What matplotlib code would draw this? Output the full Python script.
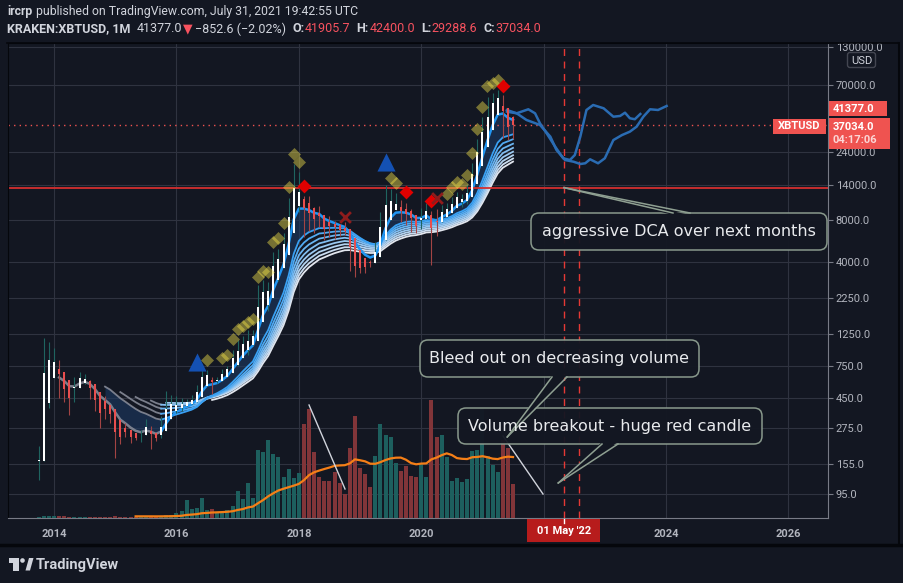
import matplotlib
matplotlib.use('Agg')
import matplotlib.pyplot as plt
import numpy as np
from matplotlib.patches import FancyBboxPatch, Polygon, Rectangle, Circle
from matplotlib.ticker import NullLocator

W, H = 904, 583
BG = '#131722'
FG = '#d1d4dc'
AXTXT = '#b2b5be'
GRID = '#2f3340'
RED = '#f7525f'
FONT = ['Roboto', 'DejaVu Sans']
plt.rcParams['font.family'] = FONT

# ---- monthly bars KRAKEN:XBTUSD, first bar = Oct 2013 ----
first_year, first_month = 2013, 10
opens = [125, 200, 1110,
         700, 815, 545, 460, 448, 628, 640, 586, 478, 387, 338, 378,
         318, 218, 254, 244, 236, 230, 263, 284, 230, 236, 314, 377,
         430, 369, 437, 416, 448, 531, 674, 624, 575, 609, 700, 745,
         964, 965, 1190, 1080, 1350, 2300, 2480, 2870, 4740, 4340, 6450, 10000,
         13880, 10200, 10300, 6930, 9240, 7490, 6390, 7730, 7010, 6620, 6300, 4020,
         3740, 3460, 3820, 4100, 5330, 8570, 10800, 10100, 9600, 8300, 9150, 7570,
         7200, 9350, 8540, 6420, 8630, 9450, 9140, 11350, 11650, 10780, 13800, 19700,
         28990, 33100, 45200, 58800, 57700, 37300, 35000]
highs = [206, 1180, 1110,
         1005, 828, 660, 545, 633, 680, 660, 600, 490, 415, 460, 382,
         320, 266, 300, 262, 248, 268, 318, 286, 245, 335, 500, 470,
         462, 448, 439, 470, 550, 780, 703, 628, 629, 720, 756, 980,
         1150, 1210, 1350, 1350, 2760, 3000, 2920, 4750, 4980, 6480, 11400, 19700,
         17200, 11800, 11700, 9750, 9990, 7760, 8500, 7760, 7400, 7680, 6600, 4300,
         4100, 4200, 4130, 5600, 9100, 13900, 13200, 12300, 10900, 10500, 9500, 7750,
         9580, 10500, 9200, 9460, 10070, 10400, 11450, 12480, 12070, 14100, 19900, 29300,
         41900, 58400, 61800, 65000, 59600, 41300, 42400]
lows = [119, 190, 380,
        680, 448, 420, 340, 420, 525, 565, 440, 365, 275, 320, 300,
        170, 212, 240, 215, 227, 220, 252, 195, 225, 236, 300, 350,
        350, 364, 394, 411, 436, 522, 605, 480, 569, 605, 680, 740,
        750, 915, 890, 1060, 1340, 2100, 1830, 2670, 2950, 4150, 5500, 10000,
        9000, 6000, 6600, 6430, 7050, 5750, 6070, 5880, 6110, 6200, 3500, 3150,
        3400, 3390, 3700, 4070, 5330, 7500, 9100, 9400, 7700, 7300, 6500, 6430,
        6860, 8450, 3850, 6150, 8100, 8900, 8900, 10950, 9830, 10370, 13200, 17600,
        28100, 32300, 44900, 47000, 30000, 28800, 29288.6]
closes = [200, 1110, 700,
          815, 545, 460, 448, 628, 640, 586, 478, 387, 338, 378, 318,
          218, 254, 244, 236, 230, 263, 284, 230, 236, 314, 377, 430,
          369, 437, 416, 448, 531, 674, 624, 575, 609, 700, 745, 964,
          965, 1190, 1080, 1350, 2300, 2480, 2870, 4740, 4340, 6450, 10000, 13880,
          10200, 10300, 6930, 9240, 7490, 6390, 7730, 7010, 6620, 6300, 4020, 3740,
          3460, 3820, 4100, 5330, 8570, 10800, 10100, 9600, 8300, 9150, 7570, 7200,
          9350, 8540, 6420, 8630, 9450, 9140, 11350, 11650, 10780, 13800, 19700, 28990,
          33100, 45200, 58800, 57700, 37300, 35000, 41377]
volumes = [1.5, 2, 2,
           2, 2, 2, 1.5, 1.5, 1.5, 1.5, 1.5, 1.5, 1.5, 1.5, 1.5,
           2, 1.5, 1.5, 1.5, 1.5, 1.5, 2, 2, 1.5, 2.5, 3, 3,
           5, 7, 18, 9, 10, 20, 8, 9, 6, 6, 8, 12,
           27, 19, 35, 20, 68, 66, 78, 64, 61, 41, 49, 40,
           45, 94, 109, 66, 41, 37, 37, 46, 35, 24, 70, 102,
           50, 44, 31, 62, 94, 83, 81, 55, 47, 52, 42, 41,
           55, 41, 118, 81, 83, 61, 37, 40, 36, 39, 67, 68,
           109, 62, 53, 46, 78, 70, 34]

ribbon_lengths = [5, 14, 17, 20, 23, 26, 29, 32, 35]
vol_ma_len = 20

# signal markers (decimal year, price)
olive_t = [2016.500, 2016.750, 2016.833, 2016.917, 2017.000, 2017.083, 2017.167, 2017.250,
           2017.333, 2017.417, 2017.500, 2017.583, 2017.667, 2017.750, 2017.833, 2017.917,
           2018.000, 2019.500, 2019.583, 2020.417, 2020.500, 2020.583, 2020.667, 2020.750,
           2020.833, 2020.917, 2021.000, 2021.083, 2021.167, 2021.250]
olive_p = [828, 849, 901, 1156, 1365, 1439, 1535, 1603, 3177, 3499, 3443, 5598, 5916, 7603,
           13460, 23070, 20180, 15590, 14520, 12080, 13460, 14760, 14220, 16440, 23330,
           34360, 49090, 69180, 72280, 76210]
red_t = [2018.083, 2019.750, 2020.167, 2021.333]
red_p = [13830, 12420, 10840, 69500]
cross_t = [2018.750, 2020.250]
cross_p = [8300, 11270]
tri_t = [2016.333, 2019.417]
tri_p = [805, 20370]

# projected paths
fc_a_t = [2021.40, 2021.56, 2021.75, 2021.86, 2021.94, 2022.05, 2022.19, 2022.32, 2022.43, 2022.51,
          2022.60, 2022.70, 2022.81, 2022.98, 2023.14, 2023.25, 2023.33, 2023.41, 2023.49, 2023.58]
fc_a_p = [46990, 44540, 47530, 44540, 37930, 32210, 25940, 21530, 20940, 22700,
          30550, 46990, 50930, 48310, 42170, 42660, 44980, 41110, 40460, 44060]
fc_b_t = [2021.40, 2021.56, 2021.72, 2021.94, 2022.11, 2022.21, 2022.35, 2022.49, 2022.60, 2022.68,
          2022.76, 2022.89, 2023.00, 2023.14, 2023.28, 2023.41, 2023.52, 2023.63, 2023.74, 2023.87, 2024.01]
fc_b_p = [45710, 44540, 39990, 36900, 30550, 24600, 20940, 20370, 19630, 19860,
          21180, 19860, 21530, 28910, 31330, 33110, 35890, 42170, 47530, 46990, 50120]

support_level = 13400
last_price, ha_close_label = 41377.0, 37034.0
marker_dates = [2022.333, 2022.583]   # 01 May '22, 01 Aug '22

# drawings on the volume pane (year, volume)
tl1_t, tl1_v = [2018.167, 2018.755], [113, 29]
tl2_t, tl2_v = [2021.337, 2021.990], [82, 24]

price_ticks = [95, 155, 275, 450, 750, 1250, 2250, 4000, 8000, 14000, 24000, 70000, 130000]
year_ticks = [2014, 2016, 2018, 2020, 2022, 2024, 2026]


def heikin_ashi(o, h, l, c):
    hc = (o + h + l + c) / 4
    ho = np.empty_like(hc)
    ho[0] = (o[0] + c[0]) / 2
    for i in range(1, len(hc)):
        ho[i] = (ho[i-1] + hc[i-1]) / 2
    return ho, np.maximum.reduce([h, ho, hc]), np.minimum.reduce([l, ho, hc]), hc


def sma(x, n):
    out = np.full(len(x), np.nan)
    for i in range(n - 1, len(x)):
        out[i] = x[i-n+1:i+1].mean()
    return out


def ema(x, n):
    # sma-seeded, like the chart's own ema
    out = np.full(len(x), np.nan)
    a = 2.0 / (n + 1)
    out[n-1] = x[:n].mean()
    for i in range(n, len(x)):
        out[i] = a * x[i] + (1 - a) * out[i-1]
    return out


o, h, l, c = [np.array(a, float) for a in (opens, highs, lows, closes)]
vol = np.array(volumes, float)
n = len(c)
t = first_year + (first_month - 1 + np.arange(n)) / 12.0
ha_o, ha_h, ha_l, ha_c = heikin_ashi(o, h, l, c)
up = ha_c >= ha_o

fig = plt.figure(figsize=(W/100, H/100), dpi=100, facecolor=BG)
ax = fig.add_axes([8/W, 1-518/H, 820/W, 475/H])
ax.set_facecolor(BG)
ax.set_yscale('log')
ax.set_xlim(2013.248, 2026.647)
ax.set_ylim(64.4, 138700)

vax = ax.twinx()
vax.set_ylim(0, 475)
vax.set_yticks([])
for s in vax.spines.values():
    s.set_visible(False)

ax.yaxis.tick_right()
ax.set_yticks(price_ticks)
ax.set_yticklabels(['%.1f' % v for v in price_ticks])
ax.yaxis.set_minor_locator(NullLocator())
ax.set_xticks(year_ticks)
# 2022 sits under the red date badge
ax.set_xticklabels(['' if y == 2022 else str(y) for y in year_ticks])
ax.tick_params(axis='y', right=True, left=False, labelright=True, labelleft=False,
               length=3.5, width=0.8, color='#787b86', labelcolor=AXTXT, labelsize=8, pad=2)
ax.tick_params(axis='x', length=0, pad=8, labelsize=8, labelcolor=AXTXT)
for lb in ax.get_xticklabels():
    lb.set_fontweight('bold')
ax.grid(True, color=GRID, lw=0.8)
ax.set_axisbelow(True)
for side in ('right', 'bottom'):
    ax.spines[side].set_color('#787b86')
for side in ('top', 'left'):
    ax.spines[side].set_color('#05070c')

# MA ribbon on Heikin Ashi close
GRAY_END = 2015.75
c0 = np.array([33, 150, 243]) / 255.
c1 = np.array([226, 230, 238]) / 255.
mas = [ema(ha_c, k) for k in ribbon_lengths]
ax.fill_between(t, mas[0], mas[1], where=np.isfinite(mas[1]), color='#1d3a63', alpha=0.6, lw=0, zorder=1.5)
gi = np.where(t <= GRAY_END)[0][-1]
for k, m in enumerate(mas):
    col = c0 + (c1 - c0) * k / (len(mas) - 1)
    lw = 1.8 if k == 0 else 1.3
    ax.plot(t[:gi+1], m[:gi+1], color='#868a97', lw=lw, alpha=0.9, zorder=2)
    ax.plot(t[gi:], m[gi:], color=col, lw=lw, zorder=2 + 0.01 * (len(mas) - k))

# Heikin Ashi candles
lo_b = np.minimum(ha_o, ha_c)
hi_b = np.maximum(np.maximum(ha_o, ha_c), lo_b * 1.012)
ax.vlines(t, ha_l, ha_h, colors=['#1f6460' if u else '#a34444' for u in up], lw=0.8, zorder=3)
ax.bar(t, hi_b - lo_b, bottom=lo_b, width=2/61.17,
       color=['#ffffff' if u else '#e84e4e' for u in up], lw=0, zorder=3.1)

# projections and levels
ax.plot(fc_a_t, fc_a_p, color='#2a6cb3', lw=1.8, zorder=3)
ax.plot(fc_b_t, fc_b_p, color='#2a6cb3', lw=1.8, zorder=3)
ax.axhline(support_level, color='#d32f2f', lw=1.3, zorder=2.5)
ax.axhline(ha_close_label, color='#ef5350', lw=1, ls=(0, (1, 3)), zorder=2.5)
for d in marker_dates:
    ax.axvline(d, color='#e53935', lw=1, ls=(0, (5, 4)), zorder=2.5)

# signal markers
ax.scatter(olive_t, olive_p, marker='D', s=44, color='#f0e04a', alpha=0.45, lw=0, zorder=5)
ax.scatter(red_t, red_p, marker='D', s=50, color='#e00000', lw=0, zorder=5)
ax.scatter(cross_t, cross_p, marker='x', s=60, color='#8e1c1c', lw=2, zorder=5)
ax.scatter(tri_t, tri_p, marker='^', s=170, color='#1451b3', lw=0, zorder=5)

# volume pane
vax.bar(t, vol, width=4/61.17, color=['#1d5f5e' if u else '#813539' for u in up], lw=0, zorder=2)
vax.plot(t, sma(vol, vol_ma_len), color='#f57f17', lw=1.6, zorder=3)
vax.plot(tl1_t, tl1_v, color='#d1d4dc', lw=1, zorder=4)
vax.plot(tl2_t, tl2_v, color='#d1d4dc', lw=1, zorder=4)

# overlay in pixel coordinates
ov = fig.add_axes([0, 0, 1, 1], zorder=10)
ov.set_xlim(0, W)
ov.set_ylim(H, 0)
ov.axis('off')
ov.patch.set_alpha(0)


def to_px(a, x, y):
    dx, dy = a.transData.transform((x, y))
    return dx, H - dy


EDGE = '#8fa092'


def callout(box, base, inward, apex, text):
    x0, y0, x1, y1 = box
    r = 8
    ov.add_patch(FancyBboxPatch((x0 + r, y0 + r), x1 - x0 - 2*r, y1 - y0 - 2*r,
                                boxstyle='round,pad=%d' % r, fc=BG, ec=EDGE, lw=1.1, alpha=0.95, zorder=5))
    (bx0, bx1), yb = base
    ov.add_patch(Polygon([(bx0, yb + 2*inward), (bx1, yb + 2*inward), apex], closed=True,
                         fc=BG, ec='none', zorder=6))
    for bx in (bx0, bx1):
        ov.plot([bx, apex[0]], [yb, apex[1]], color=EDGE, lw=1.1, zorder=7)
    ov.text((x0 + x1) / 2, (y0 + y1) / 2, text, ha='center', va='center', fontsize=11.5,
            family='DejaVu Sans', color='#e8eaed', zorder=8)


callout((531, 213, 827, 250), ((673, 690), 213), 1,
        to_px(ax, 2022.333, support_level), 'aggressive DCA over next months')
callout((420, 340, 699, 377), ((552, 567), 377), -1,
        to_px(vax, 2021.406, 81), 'Bleed out on decreasing volume')
callout((458, 408, 762, 444), ((602, 618), 444), -1,
        to_px(vax, 2022.239, 35), 'Volume breakout - huge red candle')

# price scale labels
_, y41 = to_px(ax, 2020, last_price)
_, y37 = to_px(ax, 2020, ha_close_label)
c41 = y41 - 9
ov.add_patch(Rectangle((829, c41 - 7.5), 58, 15, fc='#ef5350', ec='none', zorder=5))
ov.text(833, c41, '%.1f' % last_price, color='white', fontsize=8, fontweight='bold', va='center', zorder=6)
ov.add_patch(Rectangle((829, y37 - 7), 61, 31, fc='#ef5350', ec='none', zorder=5))
ov.text(833, y37 + 2, '%.1f' % ha_close_label, color='white', fontsize=8, fontweight='bold', va='center', zorder=6)
ov.text(833, y37 + 15.5, '04:17:06', color='#fcd6d6', fontsize=8, fontweight='bold', va='center', zorder=6)
ov.add_patch(Rectangle((773, y37 - 6), 53, 15, fc='#ef5350', ec='none', zorder=5))
ov.text(799.5, y37 + 1.5, 'XBTUSD', color='white', fontsize=8, fontweight='bold', ha='center', va='center', zorder=6)
ov.add_patch(FancyBboxPatch((850, 55), 23, 10, boxstyle='round,pad=2.5', fc=BG, ec='#434651', lw=1, zorder=5))
ov.text(861.5, 60.5, 'USD', color=FG, fontsize=8, ha='center', va='center', zorder=6)

# time scale date label
xd, _ = to_px(ax, marker_dates[0], 1000)
ov.add_patch(Rectangle((xd - 36.5, 518.5), 73, 23, fc='#b71c1c', ec='none', zorder=5))
ov.text(xd, 530.5, "01 May '22", color='white', fontsize=8, fontweight='bold', ha='center', va='center', zorder=6)
ov.plot([xd, xd], [518.5, 523], color='white', lw=1, zorder=7)

# frame lines
ov.plot([7, 899], [43, 43], color='#05070c', lw=1.2)
ov.plot([899.5, 899.5], [43, 545], color='#05070c', lw=1.5)
ov.plot([0, W], [545, 545], color='#05070c', lw=2.5)

# header
rend = fig.canvas.get_renderer()


def text_runs(x, y, runs, size):
    for s, col, weight, gap in runs:
        tx = ov.text(x, y, s, color=col, fontsize=size, fontweight=weight, ha='left', va='center')
        x += tx.get_window_extent(renderer=rend).width + gap


text_runs(7, 12, [('ircrp', FG, 'bold', 3.5),
                  ('published on TradingView.com, July 31, 2021 19:42:55 UTC', FG, 'normal', 0)], 8.8)
text_runs(7, 29, [('KRAKEN:XBTUSD, 1M', FG, 'bold', 6),
                  ('41377.0', FG, 'normal', 1),
                  ('\u25bc', RED, 'normal', 3),
                  ('\u2212852.6 (\u22122.02%)', FG, 'normal', 6),
                  ('O:', FG, 'bold', 0.5), ('41905.7', RED, 'normal', 6),
                  ('H:', FG, 'bold', 0.5), ('42400.0', RED, 'normal', 6),
                  ('L:', FG, 'bold', 0.5), ('29288.6', RED, 'normal', 6),
                  ('C:', FG, 'bold', 0.5), ('37034.0', RED, 'normal', 0)], 9)

# logo
ov.add_patch(Rectangle((9, 558), 10, 4.5, fc=FG, ec='none'))
ov.add_patch(Rectangle((13.5, 558), 5.5, 12.5, fc=FG, ec='none'))
ov.add_patch(Circle((22.5, 560.5), 2.3, fc=FG, ec='none'))
ov.add_patch(Polygon([(25.5, 570.5), (29, 558), (33.5, 558), (30, 570.5)], fc=FG, ec='none'))
ov.text(36, 564.5, 'TradingView', color=FG, fontsize=10.5, fontweight='bold', va='center')

fig.savefig('out.png', dpi=100, facecolor=BG)
